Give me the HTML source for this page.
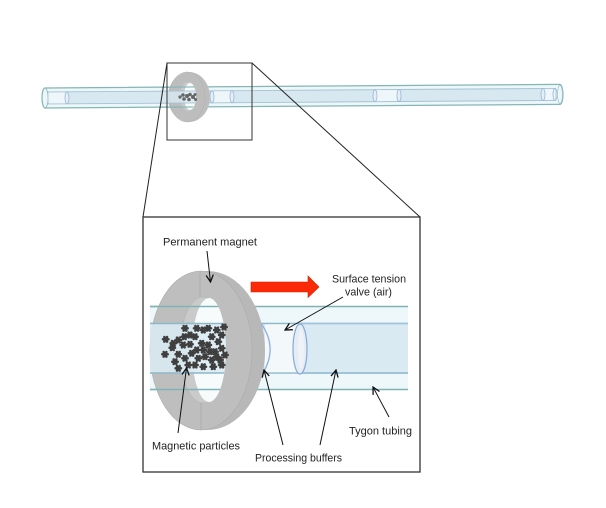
<!DOCTYPE html>
<html>
<head>
<meta charset="utf-8">
<style>
html,body{margin:0;padding:0;background:#fff;}
svg{display:block;}
text{font-family:"Liberation Sans",sans-serif;font-size:11px;fill:#222;}
</style>
</head>
<body>
<svg width="606" height="508" viewBox="0 0 606 508" xmlns="http://www.w3.org/2000/svg">
<defs>
  <marker id="ah" viewBox="-9 -5 10 10" refX="0" refY="0" markerWidth="10" markerHeight="10" markerUnits="userSpaceOnUse" orient="auto">
    <path d="M-7,-3.6 L0,0 L-7,3.6" fill="none" stroke="#111" stroke-width="1.3"/>
  </marker>
  <g id="gear">
    <circle cx="0" cy="0" r="2.6" fill="#3f3f3f"/>
    <circle cx="2.7" cy="0" r="1.25" fill="#3f3f3f"/>
    <circle cx="-2.7" cy="0" r="1.25" fill="#3f3f3f"/>
    <circle cx="1.35" cy="2.35" r="1.25" fill="#3f3f3f"/>
    <circle cx="-1.35" cy="2.35" r="1.25" fill="#3f3f3f"/>
    <circle cx="1.35" cy="-2.35" r="1.25" fill="#3f3f3f"/>
    <circle cx="-1.35" cy="-2.35" r="1.25" fill="#3f3f3f"/>
  </g>
  <g id="tubeTop">
    <rect x="42" y="88" width="521" height="20" rx="3" ry="10" fill="#edf6f8" stroke="#84b6b6" stroke-width="1.2"/>
    <ellipse cx="45" cy="98" rx="3" ry="10" fill="none" stroke="#84b6b6" stroke-width="0.8"/>
    <rect x="48" y="92" width="507" height="12" fill="#d8e8f0" stroke="#a4c3d3" stroke-width="0.9"/>
    <rect x="48.5" y="92.5" width="18.5" height="11" fill="#eef6f9"/>
    <rect x="212" y="92.5" width="20" height="11" fill="#eef6f9"/>
    <rect x="375" y="92.5" width="24" height="11" fill="#eef6f9"/>
    <rect x="543" y="92.5" width="12" height="11" fill="#eef6f9"/>
    <ellipse cx="67" cy="98" rx="2" ry="6" fill="#e6eef5" stroke="#9ab6d9" stroke-width="0.8"/>
    <ellipse cx="212" cy="98" rx="2" ry="6" fill="#e6eef5" stroke="#9ab6d9" stroke-width="0.8"/>
    <ellipse cx="232" cy="98" rx="2" ry="6" fill="#e6eef5" stroke="#9ab6d9" stroke-width="0.8"/>
    <ellipse cx="375" cy="98" rx="2" ry="6" fill="#e6eef5" stroke="#9ab6d9" stroke-width="0.8"/>
    <ellipse cx="399" cy="98" rx="2" ry="6" fill="#e6eef5" stroke="#9ab6d9" stroke-width="0.8"/>
    <ellipse cx="543" cy="98" rx="2" ry="6" fill="#e6eef5" stroke="#9ab6d9" stroke-width="0.8"/>
    <ellipse cx="555" cy="98" rx="2" ry="6" fill="none" stroke="#9ab6d9" stroke-width="0.8"/>
    <ellipse cx="560" cy="98" rx="2.5" ry="9" fill="none" stroke="#9cc4c4" stroke-width="0.7"/>
  </g>
  <g id="tubeTopCh">
    <rect x="42" y="88" width="160" height="20" fill="none" stroke="#84b6b6" stroke-width="1.2"/>
    <rect x="48" y="92" width="160" height="12" fill="#d8e8f0" fill-opacity="0.85" stroke="#a4c3d3" stroke-width="0.9"/>
  </g>
  <clipPath id="clipSmall">
    <rect x="160" y="80" width="29" height="36"/>
    <ellipse cx="190" cy="96.5" rx="6" ry="13.5"/>
  </clipPath>
  <g id="bigLines">
    <rect x="150" y="323.5" width="258" height="49.5" fill="#dbebf2" fill-opacity="0.88"/>
    <line x1="150" y1="306.5" x2="408" y2="306.5" stroke="#7fb3b8" stroke-width="1.5"/>
    <line x1="150" y1="389.5" x2="408" y2="389.5" stroke="#7fb3b8" stroke-width="1.5"/>
    <line x1="150" y1="323.5" x2="408" y2="323.5" stroke="#8db8c9" stroke-width="1.5"/>
    <line x1="150" y1="373" x2="408" y2="373" stroke="#8db8c9" stroke-width="1.5"/>
  </g>
  <clipPath id="clipBig">
    <rect x="145" y="300" width="60" height="95"/>
    <ellipse cx="209" cy="350" rx="17" ry="52"/>
  </clipPath>
</defs>

<g transform="rotate(-0.4 42 98)">
  <use href="#tubeTop"/>
</g>
<ellipse cx="189" cy="97" rx="21" ry="25" fill="#bdbdbd"/>
<ellipse cx="187" cy="97" rx="18" ry="25" fill="none" stroke="#b0b0b0" stroke-width="0.5"/>
<ellipse cx="188" cy="96.5" rx="8" ry="14.5" fill="#cacaca"/>
<ellipse cx="190" cy="96.5" rx="6" ry="13.5" fill="#f7fbfc"/>
<g transform="rotate(-0.4 42 98)" clip-path="url(#clipSmall)">
  <use href="#tubeTopCh"/>
</g>
<g fill="#666">
  <circle cx="180" cy="97" r="1.6"/>
  <circle cx="183" cy="95" r="1.8"/>
  <circle cx="184" cy="99" r="1.8"/>
  <circle cx="187" cy="96" r="2"/>
  <circle cx="189" cy="99.5" r="1.8"/>
  <circle cx="190" cy="94.5" r="1.8"/>
  <circle cx="193" cy="97" r="2"/>
  <circle cx="195" cy="94.5" r="1.5"/>
  <circle cx="195.5" cy="99.5" r="1.5"/>
</g>

<rect x="167" y="63" width="85" height="77" fill="none" stroke="#333" stroke-width="1"/>
<line x1="167" y1="63" x2="143" y2="217" stroke="#222" stroke-width="1"/>
<line x1="252" y1="63" x2="420" y2="217" stroke="#222" stroke-width="1"/>

<rect x="143" y="217" width="277" height="255" fill="#fff" stroke="#333" stroke-width="1.3"/>

<rect x="150" y="306.5" width="258" height="83" fill="#eef7f9"/>
<use href="#bigLines"/>
<rect x="265" y="324.3" width="35" height="48" fill="#f3f9fb"/>
<rect x="300" y="324.3" width="108" height="48" fill="#d9eaf3"/>
<line x1="298" y1="323.5" x2="408" y2="323.5" stroke="#a0c2dc" stroke-width="1.5"/>
<line x1="298" y1="373" x2="408" y2="373" stroke="#94bcd2" stroke-width="1.5"/>
<ellipse cx="300" cy="349" rx="7" ry="25" fill="#e5edf4" stroke="#86a9d8" stroke-width="1.2"/>
<ellipse cx="301" cy="349" rx="3" ry="20" fill="#eef3f8"/>

<ellipse cx="207.5" cy="350.5" rx="57.5" ry="79.5" fill="#b8b8b8"/>
<ellipse cx="201" cy="350.5" rx="51" ry="79.5" fill="#bebebe" stroke="#ababab" stroke-width="0.6"/>
<ellipse cx="203" cy="350" rx="23" ry="53" fill="#cacaca" stroke="#b2b2b2" stroke-width="0.5"/>
<ellipse cx="209" cy="350" rx="17" ry="52" fill="#f8fbfc"/>
<line x1="200" y1="271" x2="200" y2="297" stroke="#a8a8a8" stroke-width="0.7"/>
<line x1="201" y1="403" x2="201" y2="430" stroke="#a8a8a8" stroke-width="0.7"/>

<g clip-path="url(#clipBig)">
  <use href="#bigLines"/>
</g>

<path d="M261.5,324 Q278,348 263,373" fill="none" stroke="#8fb0e0" stroke-width="1.3"/>

<g>
  <use href="#gear" x="165.7" y="339.3"/>
  <use href="#gear" x="172.3" y="347.7"/>
  <use href="#gear" x="165" y="354.3"/>
  <use href="#gear" x="178.3" y="340"/>
  <use href="#gear" x="178.3" y="354.3"/>
  <use href="#gear" x="185" y="328.3"/>
  <use href="#gear" x="184.3" y="336.7"/>
  <use href="#gear" x="190" y="344.3"/>
  <use href="#gear" x="196.7" y="328.3"/>
  <use href="#gear" x="195" y="336.7"/>
  <use href="#gear" x="201.7" y="343.3"/>
  <use href="#gear" x="203.3" y="330"/>
  <use href="#gear" x="208.3" y="328.3"/>
  <use href="#gear" x="211.7" y="336.7"/>
  <use href="#gear" x="208.3" y="345"/>
  <use href="#gear" x="216.7" y="330"/>
  <use href="#gear" x="218.3" y="341.7"/>
  <use href="#gear" x="215" y="351.7"/>
  <use href="#gear" x="221.7" y="335"/>
  <use href="#gear" x="221.7" y="348.3"/>
  <use href="#gear" x="191.7" y="353.3"/>
  <use href="#gear" x="198.3" y="358.3"/>
  <use href="#gear" x="205" y="356.7"/>
  <use href="#gear" x="211.7" y="360"/>
  <use href="#gear" x="188.3" y="365"/>
  <use href="#gear" x="178.3" y="368.3"/>
  <use href="#gear" x="195" y="365"/>
  <use href="#gear" x="203.3" y="366.7"/>
  <use href="#gear" x="213.3" y="366.7"/>
  <use href="#gear" x="220" y="360"/>
  <use href="#gear" x="183.3" y="345"/>
  <use href="#gear" x="190" y="335"/>
  <use href="#gear" x="203.3" y="350"/>
  <use href="#gear" x="196.7" y="350"/>
  <use href="#gear" x="210" y="351.7"/>
  <use href="#gear" x="216.7" y="356.7"/>
  <use href="#gear" x="221.7" y="365"/>
  <use href="#gear" x="185" y="358.3"/>
  <use href="#gear" x="175" y="361.7"/>
  <use href="#gear" x="173.3" y="343.3"/>
  <use href="#gear" x="224" y="327"/>
  <use href="#gear" x="225" y="355"/>
</g>

<polygon points="251,282 308,282 308,276 319,287 308,297.5 308,292 251,292" fill="#fa2a08" stroke="#d42000" stroke-width="0.6"/>

<text x="163" y="245.5" textLength="94" lengthAdjust="spacingAndGlyphs">Permanent magnet</text>
<text x="332" y="282.5" textLength="74" lengthAdjust="spacingAndGlyphs">Surface tension</text>
<text x="345" y="295.5" textLength="47" lengthAdjust="spacingAndGlyphs">valve (air)</text>
<text x="152" y="449.5" textLength="88" lengthAdjust="spacingAndGlyphs">Magnetic particles</text>
<text x="255" y="461.7" textLength="87" lengthAdjust="spacingAndGlyphs">Processing buffers</text>
<text x="349" y="434.3" textLength="63" lengthAdjust="spacingAndGlyphs">Tygon tubing</text>

<g stroke="#111" stroke-width="1" fill="none">
  <line x1="207" y1="251" x2="210.5" y2="282" marker-end="url(#ah)"/>
  <line x1="343" y1="297" x2="285" y2="330" marker-end="url(#ah)"/>
  <line x1="178" y1="433" x2="186.5" y2="368" marker-end="url(#ah)"/>
  <line x1="283" y1="445" x2="264" y2="370" marker-end="url(#ah)"/>
  <line x1="320" y1="445" x2="336" y2="370" marker-end="url(#ah)"/>
  <line x1="389" y1="417" x2="373" y2="387" marker-end="url(#ah)"/>
</g>
</svg>
</body>
</html>
